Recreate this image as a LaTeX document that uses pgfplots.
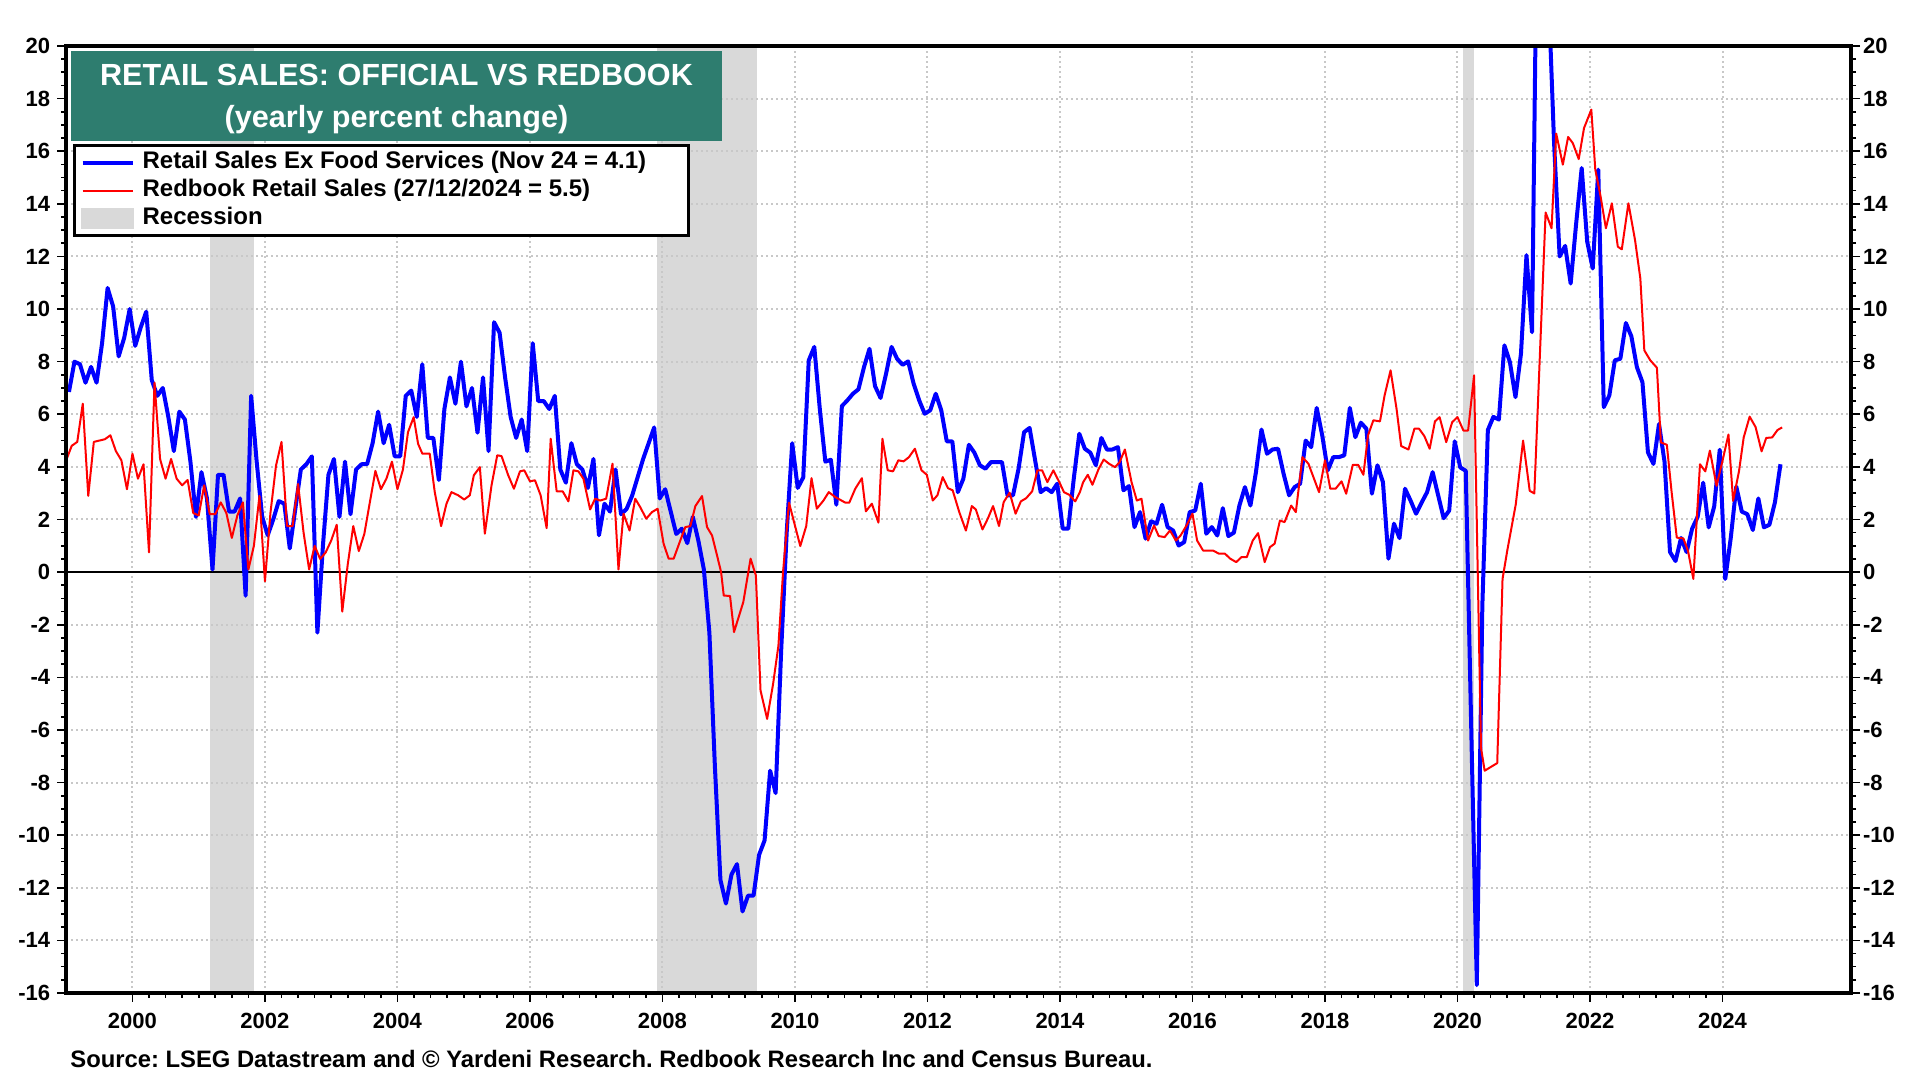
\documentclass[border=0pt]{standalone}
\usepackage{fontspec}
\setmainfont{Liberation Sans}
\usepackage{pgfplots}
\pgfplotsset{compat=1.18}
\usepackage{pgfplotstable}
\definecolor{recgray}{RGB}{217,217,217}
\definecolor{gridgray}{RGB}{200,200,200}
\definecolor{titleteal}{RGB}{46,125,111}
\definecolor{sblue}{RGB}{0,0,255}
\definecolor{sred}{RGB}{255,0,0}
\frenchspacing

\pgfplotstableread{
m v
0 6.85
1 8.0
2 7.9
3 7.2
4 7.8
5 7.2
6 8.7
7 10.8
8 10.1
9 8.2
10 8.9
11 10.0
12 8.6
13 9.3
14 9.9
15 7.3
16 6.7
17 7.0
18 5.9
19 4.6
20 6.1
21 5.8
22 4.2
23 2.1
24 3.8
25 2.8
26 0.1
27 3.7
28 3.7
29 2.3
30 2.3
31 2.8
32 -0.9
33 6.7
34 4.2
35 2.1
36 1.4
37 2.0
38 2.7
39 2.6
40 0.9
41 2.4
42 3.9
43 4.1
44 4.4
45 -2.3
46 1.0
47 3.7
48 4.3
49 2.1
50 4.2
51 2.2
52 3.9
53 4.1
54 4.1
55 4.9
56 6.1
57 4.9
58 5.6
59 4.4
60 4.4
61 6.7
62 6.9
63 5.9
64 7.9
65 5.1
66 5.1
67 3.5
68 6.2
69 7.4
70 6.4
71 8.0
72 6.3
73 7.0
74 5.3
75 7.4
76 4.6
77 9.5
78 9.1
79 7.4
80 5.9
81 5.1
82 5.8
83 4.6
84 8.7
85 6.5
86 6.5
87 6.2
88 6.7
89 3.9
90 3.4
91 4.9
92 4.1
93 3.9
94 3.2
95 4.3
96 1.4
97 2.6
98 2.3
99 3.9
100 2.2
101 2.4
102 2.9
103 3.6
104 4.3
105 4.9
106 5.5
107 2.8
108 3.15
109 2.3
110 1.45
111 1.65
112 1.1
113 2.1
114 1.2
115 0.1
116 -2.3
117 -7.4
118 -11.7
119 -12.6
120 -11.5
121 -11.1
122 -12.9
123 -12.3
124 -12.3
125 -10.75
126 -10.2
127 -7.55
128 -8.4
129 -3.0
130 1.5
131 4.9
132 3.2
133 3.6
134 8.05
135 8.56
136 6.2
137 4.2
138 4.27
139 2.56
140 6.31
141 6.53
142 6.78
143 6.95
144 7.79
145 8.49
146 7.07
147 6.62
148 7.54
149 8.56
150 8.11
151 7.88
152 8.01
153 7.16
154 6.53
155 6.02
156 6.15
157 6.78
158 6.15
159 4.97
160 4.97
161 3.04
162 3.55
163 4.84
164 4.54
165 4.06
166 3.93
167 4.18
168 4.18
169 4.18
170 2.92
171 2.92
172 3.93
173 5.32
174 5.48
175 4.25
176 3.04
177 3.19
178 3.04
179 3.36
180 1.65
181 1.65
182 3.55
183 5.26
184 4.69
185 4.54
186 4.06
187 5.10
188 4.66
189 4.66
190 4.75
191 3.11
192 3.27
193 1.71
194 2.28
195 1.27
196 1.93
197 1.84
198 2.56
199 1.71
200 1.58
201 1.01
202 1.14
203 2.28
204 2.34
205 3.36
206 1.46
207 1.71
208 1.39
209 2.43
210 1.37
211 1.50
212 2.53
213 3.23
214 2.53
215 3.8
216 5.42
217 4.50
218 4.66
219 4.69
220 3.74
221 2.92
222 3.23
223 3.36
224 5.0
225 4.75
226 6.24
227 5.20
228 3.87
229 4.37
230 4.37
231 4.44
232 6.24
233 5.13
234 5.68
235 5.45
236 2.98
237 4.06
238 3.42
239 0.51
240 1.84
241 1.29
242 3.17
243 2.72
244 2.22
245 2.64
246 3.04
247 3.80
248 2.92
249 2.05
250 2.34
251 4.97
252 3.98
253 3.85
254 -6.0
255 -15.7
256 -1.3
257 5.4
258 5.9
259 5.8
260 8.62
261 7.98
262 6.65
263 8.30
264 12.05
265 9.12
266 27.0
267 50.0
268 22.0
269 16.3
270 12.0
271 12.4
272 10.97
273 13.26
274 15.36
275 12.56
276 11.54
277 15.30
278 6.27
279 6.71
280 8.05
281 8.11
282 9.47
283 8.96
284 7.79
285 7.22
286 4.55
287 4.11
288 5.63
289 4.2
290 0.76
291 0.42
292 1.3
293 0.76
294 1.65
295 2.1
296 3.4
297 1.7
298 2.5
299 4.65
300 -0.26
301 1.3
302 3.25
303 2.3
304 2.2
305 1.6
306 2.8
307 1.7
308 1.8
309 2.65
310 4.1
}\bluedata

\pgfplotstableread{
x v
1999.000 4.25
1999.083 4.8
1999.167 4.95
1999.250 6.4
1999.333 2.9
1999.417 4.95
1999.500 5.0
1999.583 5.05
1999.667 5.2
1999.750 4.6
1999.833 4.25
1999.917 3.15
2000.000 4.5
2000.083 3.55
2000.167 4.1
2000.250 0.75
2000.333 7.2
2000.417 4.3
2000.500 3.55
2000.583 4.3
2000.667 3.55
2000.750 3.3
2000.833 3.5
2000.917 2.25
2001.000 2.15
2001.083 3.3
2001.167 2.2
2001.250 2.2
2001.333 2.65
2001.417 2.25
2001.500 1.3
2001.583 2.15
2001.667 2.65
2001.750 0.1
2001.833 1.0
2001.917 2.9
2002.000 -0.35
2002.083 2.25
2002.167 4.05
2002.250 4.95
2002.333 1.75
2002.417 1.75
2002.500 3.35
2002.583 1.5
2002.667 0.1
2002.750 1.0
2002.833 0.5
2002.917 0.75
2003.000 1.2
2003.083 1.8
2003.167 -1.5
2003.250 0.3
2003.333 1.75
2003.417 0.8
2003.500 1.45
2003.583 2.65
2003.667 3.85
2003.750 3.15
2003.833 3.55
2003.917 4.2
2004.000 3.15
2004.083 3.9
2004.159 5.32
2004.245 5.89
2004.311 4.88
2004.376 4.50
2004.487 4.50
2004.563 3.04
2004.659 1.75
2004.740 2.60
2004.815 3.04
2004.916 2.92
2005.007 2.76
2005.092 2.92
2005.153 3.68
2005.244 3.99
2005.319 1.46
2005.420 3.30
2005.506 4.44
2005.571 4.41
2005.672 3.68
2005.758 3.17
2005.849 3.83
2005.914 3.87
2006.000 3.45
2006.076 3.49
2006.161 2.92
2006.252 1.67
2006.313 5.07
2006.403 3.07
2006.494 3.07
2006.580 2.69
2006.656 3.87
2006.731 3.83
2006.807 3.55
2006.908 2.38
2006.983 2.79
2007.059 2.72
2007.150 2.79
2007.246 4.12
2007.336 0.10
2007.412 2.22
2007.503 1.58
2007.589 2.79
2007.664 2.47
2007.755 2.03
2007.841 2.28
2007.927 2.41
2008.017 1.08
2008.093 0.51
2008.169 0.51
2008.260 1.14
2008.345 1.71
2008.421 1.75
2008.496 2.51
2008.597 2.89
2008.673 1.71
2008.749 1.39
2008.824 0.63
2008.885 0.0
2008.925 -0.89
2009.02 -0.91
2009.08 -2.28
2009.22 -1.14
2009.33 0.51
2009.41 -0.13
2009.48 -4.5
2009.58 -5.58
2009.67 -4.25
2009.75 -2.8
2009.82 0.0
2009.91 2.64
2010.08 0.99
2010.17 1.75
2010.25 3.57
2010.33 2.41
2010.43 2.72
2010.51 3.04
2010.61 2.85
2010.76 2.64
2010.82 2.64
2010.91 3.17
2011.01 3.57
2011.07 2.31
2011.16 2.60
2011.26 1.88
2011.32 5.07
2011.40 3.87
2011.48 3.83
2011.56 4.25
2011.64 4.21
2011.72 4.37
2011.81 4.69
2011.91 3.87
2011.99 3.70
2012.08 2.72
2012.15 2.92
2012.23 3.61
2012.31 3.19
2012.38 3.11
2012.48 2.28
2012.58 1.58
2012.67 2.51
2012.73 2.38
2012.83 1.62
2012.91 2.03
2012.99 2.51
2013.08 1.75
2013.15 2.66
2013.24 3.02
2013.33 2.22
2013.41 2.69
2013.49 2.81
2013.58 3.07
2013.66 3.87
2013.73 3.87
2013.81 3.42
2013.90 3.87
2013.99 3.42
2014.06 3.04
2014.14 2.94
2014.23 2.69
2014.30 3.04
2014.35 3.42
2014.42 3.70
2014.49 3.32
2014.58 3.90
2014.66 4.28
2014.74 4.12
2014.83 3.99
2014.90 4.18
2014.98 4.66
2015.08 3.42
2015.16 2.72
2015.23 2.79
2015.33 1.20
2015.42 1.77
2015.49 1.37
2015.58 1.33
2015.66 1.58
2015.75 1.20
2015.82 1.39
2015.91 1.77
2016.00 2.22
2016.07 1.20
2016.16 0.82
2016.31 0.82
2016.40 0.70
2016.49 0.70
2016.57 0.51
2016.66 0.38
2016.74 0.57
2016.82 0.57
2016.91 1.20
2016.99 1.48
2017.09 0.38
2017.17 0.95
2017.24 1.08
2017.32 1.96
2017.39 1.90
2017.49 2.53
2017.56 2.28
2017.66 4.37
2017.75 4.12
2017.91 3.04
2018.00 4.25
2018.08 3.17
2018.16 3.17
2018.25 3.45
2018.32 2.98
2018.42 4.08
2018.50 4.08
2018.58 3.70
2018.65 5.20
2018.73 5.77
2018.83 5.73
2018.90 6.72
2018.99 7.67
2019.08 6.21
2019.15 4.79
2019.26 4.66
2019.35 5.45
2019.42 5.45
2019.50 5.17
2019.58 4.69
2019.66 5.73
2019.73 5.89
2019.83 4.94
2019.92 5.70
2020.00 5.89
2020.09 5.38
2020.16 5.38
2020.25 7.48
2020.355 -6.68
2020.41 -7.55
2020.60 -7.26
2020.68 -0.26
2020.75 0.8
2020.88 2.58
2020.99 5.0
2021.09 3.09
2021.16 2.99
2021.33 13.67
2021.42 13.07
2021.49 16.67
2021.59 15.49
2021.67 16.54
2021.74 16.31
2021.83 15.70
2021.91 16.88
2022.02 17.58
2022.08 15.30
2022.16 14.28
2022.24 13.07
2022.33 14.02
2022.42 12.37
2022.48 12.27
2022.58 14.02
2022.68 12.62
2022.76 11.16
2022.82 8.43
2022.91 8.05
2023.01 7.77
2023.07 4.93
2023.16 4.84
2023.23 3.09
2023.31 1.31
2023.41 1.28
2023.48 0.8
2023.56 -0.26
2023.66 4.1
2023.74 3.83
2023.81 4.62
2023.91 3.28
2024.00 4.23
2024.09 5.23
2024.16 2.71
2024.25 3.85
2024.32 5.12
2024.41 5.91
2024.50 5.51
2024.59 4.59
2024.66 5.10
2024.75 5.12
2024.83 5.40
2024.90 5.5
}\reddata

\begin{document}
\begin{tikzpicture}
\begin{axis}[
  set layers,
  scale only axis,
  width=892.4pt, height=473.5pt,
  at={(33.1pt,43.5pt)}, anchor=south west,
  xmin=1999, xmax=2025.94,
  ymin=-16, ymax=20,
  xtick={2000,2002,2004,2006,2008,2010,2012,2014,2016,2018,2020,2022,2024},
  xticklabels={2000,2002,2004,2006,2008,2010,2012,2014,2016,2018,2020,2022,2024},
  minor x tick num=7,
  ytick={-16,-14,-12,-10,-8,-6,-4,-2,0,2,4,6,8,10,12,14,16,18,20},
  yticklabels={-16,-14,-12,-10,-8,-6,-4,-2,0,2,4,6,8,10,12,14,16,18,20},
  minor y tick num=3,
  xtick pos=bottom, ytick pos=left,
  tick align=outside,
  major tick length=4.5pt, minor tick length=2.5pt,
  tick style={black, line width=0.8pt},
  grid=major,
  major grid style={gridgray, line width=1pt, dash pattern=on 1pt off 1.5pt},
  axis line style={black, line width=2pt},
  tick label style={font=\bfseries\fontsize{11}{13}\selectfont},
  xticklabel style={yshift=-1.8pt},
  legend image code/.code={\draw[#1, line cap=butt] (0pt,0pt) -- (25pt,0pt);},
  legend cell align=left,
  legend style={at={(0.004,0.896)}, anchor=north west, draw=black, line width=1.3pt,
    fill=white, inner xsep=3pt, inner ysep=2pt, row sep=0.9pt,
    font=\bfseries\fontsize{12}{13}\selectfont,
    nodes={inner sep=1pt, text height=8.5pt, text depth=2.5pt},
    /tikz/every odd column/.append style={column sep=3pt}},
]
\addplot[fill=recgray, draw=none, on layer=axis background, forget plot]
  coordinates {(2001.17,-16) (2001.17,20) (2001.83,20) (2001.83,-16)} -- cycle;
\addplot[fill=recgray, draw=none, on layer=axis background, forget plot]
  coordinates {(2007.92,-16) (2007.92,20) (2009.42,20) (2009.42,-16)} -- cycle;
\addplot[fill=recgray, draw=none, on layer=axis background, forget plot]
  coordinates {(2020.09,-16) (2020.09,20) (2020.25,20) (2020.25,-16)} -- cycle;
\addplot[black, line width=0.7pt, forget plot] coordinates {(1999,0) (2025.94,0)};
\addplot[sblue, line width=2pt, line join=round] table[x expr=1999+(\thisrow{m}+0.5)/12, y=v] {\bluedata};
\addlegendentry{Retail Sales Ex Food Services (Nov 24 = 4.1)\hspace*{17pt}}
\addplot[sred, line width=1pt, line join=round] table[x=x, y=v] {\reddata};
\addlegendentry{Redbook Retail Sales (27/12/2024 = 5.5)}
\addlegendimage{legend image code/.code={\fill[recgray] (0pt,-4.5pt) rectangle (25pt,4.5pt);}}
\addlegendentry{Recession}
\end{axis}
\begin{axis}[
  scale only axis,
  width=892.4pt, height=473.5pt,
  at={(33.1pt,43.5pt)}, anchor=south west,
  xmin=1999, xmax=2025.94,
  ymin=-16, ymax=20,
  xtick=\empty,
  ytick pos=right,
  ytick={-16,-14,-12,-10,-8,-6,-4,-2,0,2,4,6,8,10,12,14,16,18,20},
  yticklabels={-16,-14,-12,-10,-8,-6,-4,-2,0,2,4,6,8,10,12,14,16,18,20},
  yticklabel pos=right,
  minor y tick num=3,
  tick align=outside,
  major tick length=4.5pt, minor tick length=2.5pt,
  tick style={black, line width=0.8pt},
  axis line style={black, line width=2pt},
  yticklabel style={font=\bfseries\fontsize{11}{13}\selectfont, xshift=-2pt},
]
\addplot[draw=none, forget plot] coordinates {(2000,0) (2010,5)};
\end{axis}
\fill[titleteal] (35.5pt,514.5pt) rectangle (361pt,469.5pt);
\node[anchor=base, text=white, font=\bfseries\fontsize{15.3}{18}\selectfont, inner sep=0pt] at (198.25pt,497.3pt) {RETAIL SALES: OFFICIAL VS REDBOOK};
\node[anchor=base, text=white, font=\bfseries\fontsize{15.3}{18}\selectfont, inner sep=0pt] at (198.25pt,476pt) {(yearly percent change)};
\node[anchor=base west, font=\bfseries\fontsize{11.9}{14}\selectfont, inner sep=0pt] at (35pt,6pt) {Source: LSEG Datastream and © Yardeni Research. Redbook Research Inc and Census Bureau.};
\pgfresetboundingbox
\useasboundingbox (0,0) rectangle (960pt,540pt);
\end{tikzpicture}
\end{document}
